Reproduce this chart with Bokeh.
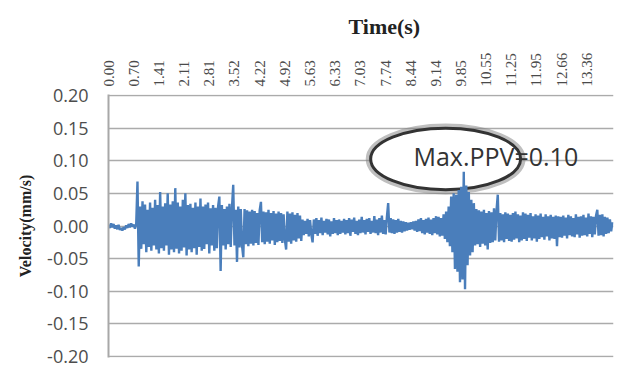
import numpy as np
from bokeh.plotting import figure
from bokeh.models import Range1d, FixedTicker, NumeralTickFormatter
from bokeh.embed import file_html
from bokeh.resources import INLINE

# ---- data ----
tick_labels = ["0.00", "0.70", "1.41", "2.11", "2.81", "3.52", "4.22", "4.92", "5.63", "6.33",
               "7.03", "7.74", "8.44", "9.14", "9.85", "10.55", "11.25", "11.95", "12.66", "13.36"]
y_ticks = [-0.20, -0.15, -0.10, -0.05, 0.00, 0.05, 0.10, 0.15, 0.20]

sample_dt = 0.0352  # s between the samples below
# velocity samples, in 0.001 mm/s
velocity_milli = [
    # quiet start
    2, -3, 4, -2, 3, -4, 1, -5, 2, -6, -3, -7, -2, -5, 1, -3, 3, -2, 4, -1, 2, -4, 3,
    # first arrival
    68, -62,
    # first strong phase
    30, -35, 38, -28, 33, -40, 25, -32, 36, -38,
    28, -30, 40, -36, 32, -42, 52, -34, 30, -38,
    35, -30, 50, -44, 33, -36, 38, -40, 58, -35,
    36, -42, 30, -38, 40, -33, 50, -45, 32, -36,
    34, -40, 28, -34, 36, -44, 30, -32, 42, -38,
    30, -35, 33, -28, 36, -42, 27, -30, 32, -38,
    28, -34, 30, 45, -69, 32, -30, 26, -36, 30,
    -28, 34, -32, 28, 63, -30, 25, -55, 30, -33, 26,
    # decay
    -30, -48, 26, -28, 24, -31, 22, -27, 25, -30,
    23, -26, 20, -29, 24, 37, -25, 22, -28, 21,
    -24, 25, -27, 20, -22, 23, -29, 19, -25, 22,
    -23, 20, -26, 18, -21, -36, 22, -24, 19, -27,
    21, -22, 17, -24, 20, -19, 16, -23,
    # low level
    10, -14, 8, -12, 11, -16, 9, -13, -25, 10,
    -12, 12, -15, 9, -11, 13, -14, 8, -10, 11,
    -13, 10, -16, 7, -12, 12, -11, 9, -14, 10,
    -12, 8, -10, 11, -13, 9, -11, 12, -15, 10,
    -9, 13, -12, 8, -14, 10, -11, 14, -10, 9,
    -13, 11, -9, 12, -12, 8, -10, 15, -11, 10,
    -14, 12, -10, 16, -12, 9, -13, 14,
    35, -10,
    12, -11, 10, -12, 9, -10, 11, -9, 8, -10,
    7, -8, 6, -7, 5, -6, 6, -5, 7, -7,
    8, -9, 10, -8, 12, -11, 9, -13, 11, -10,
    13, -12, 10, -14, 12, -11, 15, -13, 14, -16, 12, -15, 18,
    # second burst (max PPV)
    -20, 22, -25, 30, -31, 45, -40, 50, -66, 48,
    -70, 55, -86, 60, -82, 83, -97, 62, -60, 52,
    -45, 40, -40, 35,
    # coda
    -30, 26, -28, 24, -32, 22, -27, 25, -30, 20,
    -36, 23, -26, 21, -25, 27, -22, 24, 48, -24,
    20, -22, 18, -25, 21, -20, 19, -23, 17, -24,
    20, -21, 22, -19, 18, -25, 16, -22, 21, -20,
    19, -23, 17, -18, 20, -22, 15, -19, 18, -24,
    16, -20, 19, -17, 14, -21, 18, -16, 15, -22,
    17, -19, 14, -20, 16, -31, 15,
    -17, 14, -18, 16, -15, 13, -19, 17, -14, 15,
    -16, 12, -17, 18, -13, 14, -18, 15, -15, 17,
    -14, 13, -16, 19, -12, 15, -17, 14, -13, 16,
    25, -15, 17, -14, 18, -16, 14, -12, 13, -11, 10, -8, 6,
]
max_ppv_text = "Max.PPV=0.10"
x_title = "Time(s)"
y_title = "Velocity(mm/s)"

velocity = np.array(velocity_milli) / 1000.0
time = np.arange(len(velocity)) * sample_dt
tick_values = [float(s) for s in tick_labels]

p = figure(width=621, height=367, output_backend="svg", toolbar_location=None,
           x_axis_location="above",
           x_range=Range1d(0, 14.11), y_range=Range1d(-0.2015, 0.2015),
           min_border_left=108, min_border_top=94, min_border_right=8, min_border_bottom=10)
p.outline_line_color = None
p.background_fill_color = "white"

# title acting as the top axis caption
p.title.text = x_title
p.title.align = "left"
p.title.offset = 240
p.title.vertical_align = "top"
p.title.text_font = "Liberation Serif"
p.title.text_font_style = "bold"
p.title.text_font_size = "22px"
p.title.text_color = "#222222"
p.title.standoff = 18

# x axis (top)
xa = p.xaxis[0]
xa.ticker = FixedTicker(ticks=tick_values)
xa.major_label_overrides = {v: s for v, s in zip(tick_values, tick_labels)}
xa.major_label_orientation = np.pi / 2
xa.major_label_text_font = "Liberation Serif"
xa.major_label_text_font_size = "15px"
xa.major_label_text_color = "#4a4a4a"
xa.major_label_standoff = 8
xa.major_tick_out = 0
xa.major_tick_in = 0
xa.minor_tick_out = 0
xa.minor_tick_in = 0
xa.axis_line_color = None

# y axis
ya = p.yaxis[0]
ya.ticker = FixedTicker(ticks=y_ticks)
ya.formatter = NumeralTickFormatter(format="0.00")
ya.major_label_text_font = "Open Sans"
ya.major_label_text_font_size = "18px"
ya.major_label_text_color = "#4d4d4d"
ya.major_label_standoff = 20
ya.major_tick_out = 0
ya.major_tick_in = 0
ya.minor_tick_out = 0
ya.minor_tick_in = 0
ya.axis_line_color = "#a8a8a8"
ya.axis_line_width = 2
ya.axis_label = y_title
ya.axis_label_text_font = "Liberation Serif"
ya.axis_label_text_font_style = "bold"
ya.axis_label_text_font_size = "16px"
ya.axis_label_text_color = "#222222"
ya.axis_label_standoff = 10

p.xgrid.visible = False
p.ygrid.ticker = FixedTicker(ticks=y_ticks)
p.ygrid.grid_line_color = "#ababab"
p.ygrid.grid_line_width = 1.5

# callout ellipse (white filled, dark outline with soft shadow)
p.ellipse(x=[9.42], y=[0.1027], width=[4.27], height=[0.098],
          fill_color=None, line_color="#808080", line_alpha=0.5, line_width=7)
p.ellipse(x=[9.42], y=[0.1027], width=[4.19], height=[0.0943],
          fill_color="white", line_color="#333333", line_width=3)

# trace
p.line(time, velocity, line_color="#4A7EBB", line_width=2.4)

p.text(x=[8.52], y=[0.1072], text=[max_ppv_text], text_align="left",
       text_baseline="middle", text_font={"value": "Open Sans"},
       text_font_size="25px", text_color="#333333")

open("out.html", "w").write(file_html(p, INLINE))
